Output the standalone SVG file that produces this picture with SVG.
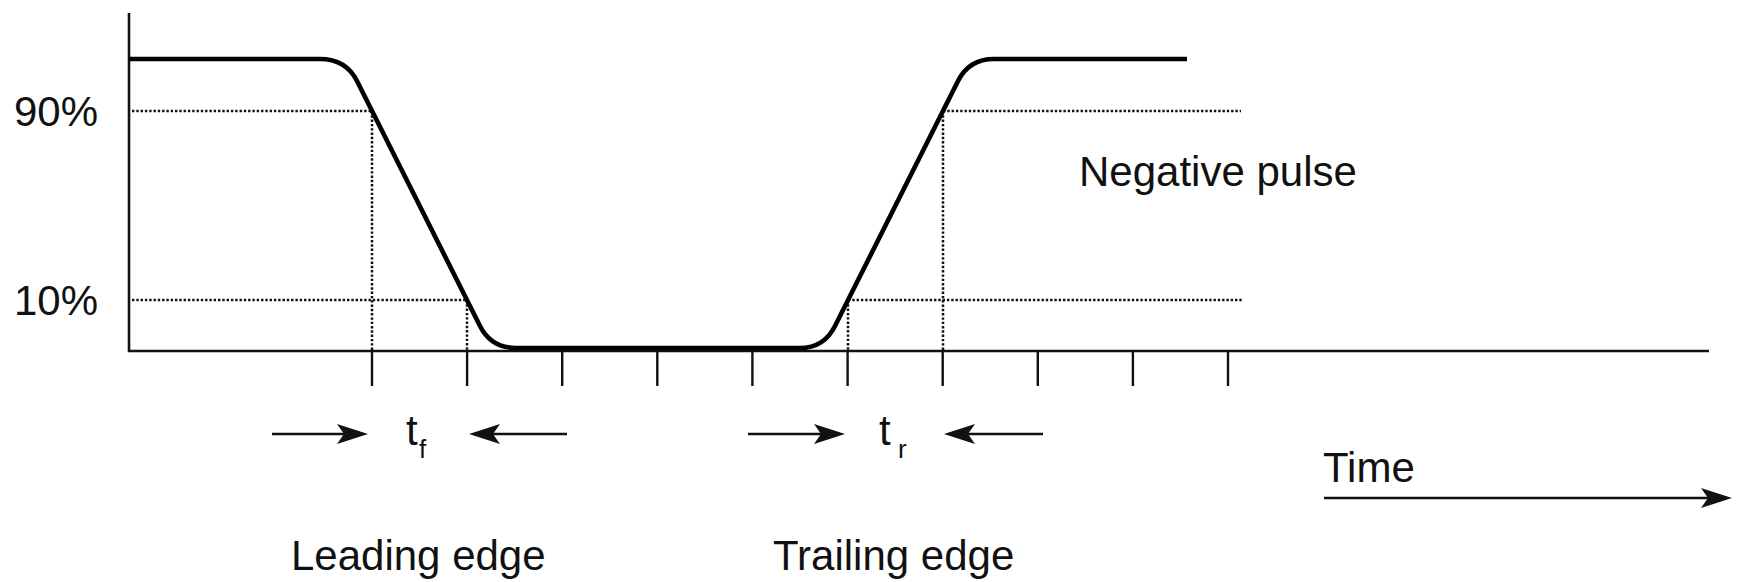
<svg xmlns="http://www.w3.org/2000/svg" width="1739" height="582" viewBox="0 0 1739 582">
<style>
.txt{font-family:"Liberation Sans",Arial,Helvetica,sans-serif;fill:#111;}
.big{font-size:42px;}
.sub{font-size:26px;}
.axis{stroke:#111;stroke-width:2.6;fill:none;}
.pulse{stroke:#000;stroke-width:4.6;fill:none;stroke-linejoin:round;}
.dot{stroke:#111;stroke-width:2.5;stroke-dasharray:2.4 1.9;fill:none;}
.tick{stroke:#111;stroke-width:2.4;}
.arr{stroke:#111;stroke-width:2.4;fill:none;}
</style>
<defs>
<marker id="ah" markerUnits="userSpaceOnUse" markerWidth="34" markerHeight="24" viewBox="0 0 34 24" refX="23" refY="12" orient="auto">
<path d="M33,12 L2,2 L9,12 L2,22 Z" fill="#111"/>
</marker>
</defs>
<rect width="1739" height="582" fill="#fff"/>
<g id="axes">
<line class="axis" x1="129" y1="13" x2="129" y2="352"/>
<line class="axis" x1="128" y1="351" x2="1709" y2="351"/>
</g>
<g id="ticks">
<line class="tick" x1="372" y1="351" x2="372" y2="386"/>
<line class="tick" x1="467.1" y1="351" x2="467.1" y2="386"/>
<line class="tick" x1="562.2" y1="351" x2="562.2" y2="386"/>
<line class="tick" x1="657.3" y1="351" x2="657.3" y2="386"/>
<line class="tick" x1="752.4" y1="351" x2="752.4" y2="386"/>
<line class="tick" x1="847.6" y1="351" x2="847.6" y2="386"/>
<line class="tick" x1="942.7" y1="351" x2="942.7" y2="386"/>
<line class="tick" x1="1037.8" y1="351" x2="1037.8" y2="386"/>
<line class="tick" x1="1132.9" y1="351" x2="1132.9" y2="386"/>
<line class="tick" x1="1228" y1="351" x2="1228" y2="386"/>
</g>
<g id="guides">
<line class="dot" x1="132" y1="111" x2="372" y2="111"/>
<line class="dot" x1="132" y1="300" x2="467" y2="300"/>
<line class="dot" x1="943" y1="111" x2="1241" y2="111"/>
<line class="dot" x1="848" y1="300" x2="1243" y2="300"/>
<line class="dot" x1="372" y1="111" x2="372" y2="350"/>
<line class="dot" x1="467" y1="300" x2="467" y2="350"/>
<line class="dot" x1="848" y1="300" x2="848" y2="350"/>
<line class="dot" x1="943" y1="111" x2="943" y2="350"/>
</g>
<g id="pulse">
<path class="pulse" d="M130,59 H320 Q346,59 357,81 L480,326 Q491,348 516,348 H800 Q824,348 835,326 L958,81 Q969,59 994,59 H1187"/>
</g>
<g id="labels">
<text class="txt big" x="14" y="126">90%</text>
<text class="txt big" x="14" y="315">10%</text>
<text class="txt big" x="1079" y="186">Negative pulse</text>
<text class="txt big" x="406" y="445">t</text>
<text class="txt sub" x="419" y="458">f</text>
<text class="txt big" x="879" y="445">t</text>
<text class="txt sub" x="898" y="458">r</text>
<text class="txt big" x="1323" y="482">Time</text>
<text class="txt big" x="291" y="570">Leading edge</text>
<text class="txt big" x="773" y="570">Trailing edge</text>
</g>
<g id="connectors">
<line class="arr" x1="272" y1="434" x2="358" y2="434" marker-end="url(#ah)"/>
<line class="arr" x1="567" y1="434" x2="479" y2="434" marker-end="url(#ah)"/>
<line class="arr" x1="748" y1="434" x2="835" y2="434" marker-end="url(#ah)"/>
<line class="arr" x1="1043" y1="434" x2="954" y2="434" marker-end="url(#ah)"/>
<line class="arr" x1="1324" y1="498" x2="1722" y2="498" marker-end="url(#ah)"/>
</g>
</svg>
